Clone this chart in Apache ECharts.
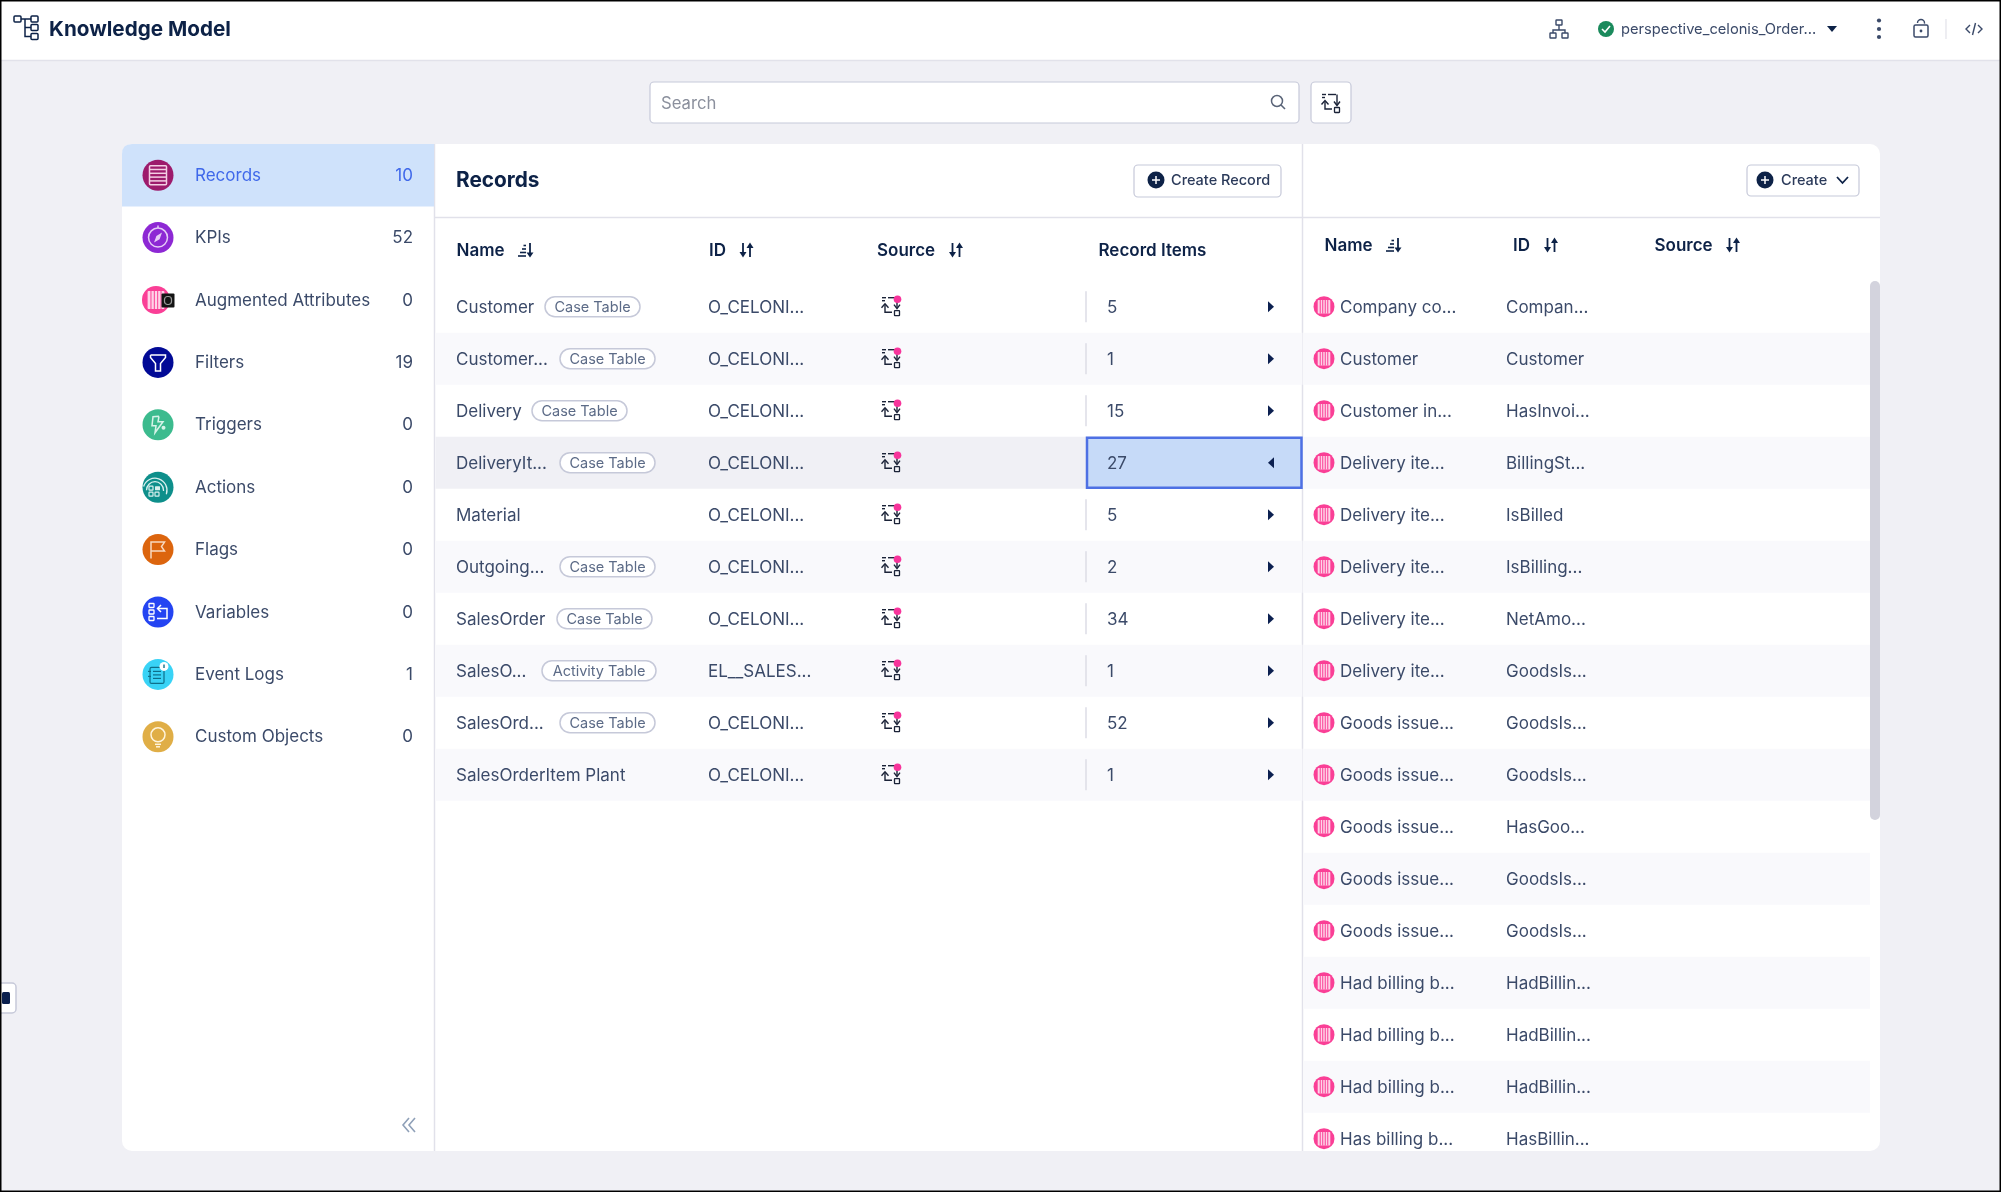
<!DOCTYPE html>
<html>
<head>
<meta charset="utf-8">
<title>Knowledge Model</title>
<script src="https://cdn.jsdelivr.net/npm/echarts@6/dist/echarts.min.js"></script>
<style>
html, body { margin: 0; padding: 0; background: #f0f0f5; }
#main { width: 2001px; height: 1192px; }
</style>
</head>
<body>
<div id="main"></div>
<script>
// sidebar
var assetLabels = ['Records', 'KPIs', 'Augmented Attributes', 'Filters', 'Triggers', 'Actions', 'Flags', 'Variables', 'Event Logs', 'Custom Objects'];
var assetCounts = [10, 52, 0, 19, 0, 0, 0, 0, 1, 0];

// records table
var recordNames = ['Customer', 'Customer...', 'Delivery', 'DeliveryIt...', 'Material', 'Outgoing...', 'SalesOrder', 'SalesO...', 'SalesOrd...', 'SalesOrderItem Plant'];
var recordTags = ['Case Table', 'Case Table', 'Case Table', 'Case Table', '', 'Case Table', 'Case Table', 'Activity Table', 'Case Table', ''];
var recordIds = ['O_CELONI...', 'O_CELONI...', 'O_CELONI...', 'O_CELONI...', 'O_CELONI...', 'O_CELONI...', 'O_CELONI...', 'EL__SALES...', 'O_CELONI...', 'O_CELONI...'];
var recordItems = [5, 1, 15, 27, 5, 2, 34, 1, 52, 1];
var selectedRecord = 3;

// record items table
var itemNames = ['Company co...', 'Customer', 'Customer in...', 'Delivery ite...', 'Delivery ite...', 'Delivery ite...', 'Delivery ite...', 'Delivery ite...', 'Goods issue...', 'Goods issue...', 'Goods issue...', 'Goods issue...', 'Goods issue...', 'Had billing b...', 'Had billing b...', 'Had billing b...', 'Has billing b...'];
var itemIds = ['Compan...', 'Customer', 'HasInvoi...', 'BillingSt...', 'IsBilled', 'IsBilling...', 'NetAmo...', 'GoodsIs...', 'GoodsIs...', 'GoodsIs...', 'HasGoo...', 'GoodsIs...', 'GoodsIs...', 'HadBillin...', 'HadBillin...', 'HadBillin...', 'HasBillin...'];

var FONT = 'Inter';
var NAVY = '#0d2247';
var BODY = '#3b4a69';
var LINE = '#e1e1ea';
var tagLeft = [545, 560, 532, 560, 0, 560, 557, 542, 560, 0];

var chart = echarts.init(document.getElementById('main'), null, { renderer: 'canvas' });

function txt(x, y, text, size, color, weight, align) {
    return {
        type: 'text',
        style: {
            x: x, y: y + 1, text: String(text), fill: color,
            fontFamily: FONT, fontSize: size, fontWeight: weight || 400,
            align: align || 'left', verticalAlign: 'middle'
        }
    };
}
function box(x, y, w, h, fill, r, stroke, lw) {
    return {
        type: 'rect',
        shape: { x: x, y: y, width: w, height: h, r: r || 0 },
        style: { fill: fill || 'transparent', stroke: stroke || null, lineWidth: lw || 0 }
    };
}
function dot(x, y, r, fill, stroke, lw) {
    return { type: 'circle', shape: { cx: x, cy: y, r: r }, style: { fill: fill || 'transparent', stroke: stroke || null, lineWidth: lw || 0 } };
}
function seg(x1, y1, x2, y2, color, lw) {
    return { type: 'line', shape: { x1: x1, y1: y1, x2: x2, y2: y2 }, style: { stroke: color, lineWidth: lw || 1.5 } };
}
function poly(points, fill) {
    return { type: 'polygon', shape: { points: points }, style: { fill: fill } };
}
function pline(points, color, lw) {
    return { type: 'polyline', shape: { points: points }, style: { stroke: color, lineWidth: lw || 1.5, fill: 'transparent' } };
}
function at(x, y, children) {
    return { type: 'group', x: x, y: y, children: children };
}

// sort glyphs
function sortName(x, y) {
    var c = [
        seg(-7, 6, 1, 6, NAVY, 1.6), seg(-5, 2.5, 1, 2.5, NAVY, 1.6),
        seg(-3, -1, 1, -1, NAVY, 1.6), seg(-1.5, -4.5, 1, -4.5, NAVY, 1.6),
        seg(5, -7, 5, 6, NAVY, 1.8), poly([[1.5, 2.5], [8.5, 2.5], [5, 7.5]], NAVY)
    ];
    return at(x, y, c);
}
function sortBoth(x, y) {
    var c = [
        seg(-3.5, -7, -3.5, 5, NAVY, 1.8), poly([[-7, 2], [0, 2], [-3.5, 7.5]], NAVY),
        seg(3.5, -5, 3.5, 7, NAVY, 1.8), poly([[0, -2], [7, -2], [3.5, -7.5]], NAVY)
    ];
    return at(x, y, c);
}

// source glyph, the pink dot is only on table rows
function sourceGlyph(x, y, color, withDot) {
    var c = [
        seg(-9, -8, -5, -8, color, 1.4), seg(-9, -5, -6, -5, color, 1.4), seg(-3, -8, 5, -8, color, 1.4),
        pline([[6, -8], [6, 2]], color, 1.4), pline([[3, -1], [6, 3], [9, -1]], color, 1.4),
        pline([[-6, -1], [-6, 6.5], [1, 6.5]], color, 1.4), pline([[-9.5, 2], [-6, -2], [-2.5, 2]], color, 1.4),
        box(3.5, 5, 5, 5, null, 0.5, color, 1.3)
    ];
    if (withDot) c.push(dot(6.5, -6.5, 3.8, '#f7349b'));
    return at(x, y, c);
}

// pink attribute disc: light panel with thin pink bars
function stripes(r, fill) {
    var c = [dot(0, 0, r, fill)];
    var w = r * 1.2;
    var h = r * 1.3;
    c.push(box(-w / 2, -h / 2, w, h, '#ffd3e8', 1));
    for (var i = 0; i < 4; i++) {
        var sx = -w / 2 + (i + 1) * w / 5;
        c.push(seg(sx, -h / 2, sx, h / 2, fill, 1));
    }
    return c;
}

// one round icon per asset type, relative to the centre
function assetIcon(i) {
    var w = '#ffffff';
    var s;
    if (i === 0) {
        s = [dot(0, 0, 15.5, '#9d1b6c'), box(-8.5, -9.5, 17, 19, null, 1, '#f4cfe4', 1.5)];
        for (var k = 1; k < 5; k++) s.push(seg(-8.5, -9.5 + k * 3.8, 8.5, -9.5 + k * 3.8, '#f4cfe4', 1.5));
        return s;
    }
    if (i === 1) {
        return [dot(0, 0, 15.5, '#8d28d4'), dot(0, 0, 9.5, null, '#e6ccf7', 1.5), seg(0, -12, 0, -9.5, '#e6ccf7', 1.5),
            poly([[4, -5], [1.6, 1.6], [-4, 5], [-1.6, -1.6]], '#e6ccf7')];
    }
    if (i === 2) {
        s = at(-2, 0, stripes(14, '#fa3f96'));
        return [s, box(3.5, -6.5, 13, 14, '#141414', 1), box(6.5, -3.5, 7, 8, null, 3, '#9a9a9a', 1.2)];
    }
    if (i === 3) {
        return [dot(0, 0, 15.5, '#020a96'), pline([[-7.5, -7.5], [7.5, -7.5], [7.5, -5], [2.5, 1], [2.5, 8.5], [-2.5, 8.5], [-2.5, 1], [-7.5, -5], [-7.5, -7.5]], w, 1.5)];
    }
    if (i === 4) {
        return [dot(0, 0, 15.5, '#3cbb8e'), pline([[1, -8.5], [-5, -8], [-6, 1], [-2, 1], [-3, 8], [5, -3], [0, -3], [1, -8.5]], '#d6f3e8', 1.5), dot(5.5, 3, 2, '#d6f3e8')];
    }
    if (i === 5) {
        s = [dot(0, 0, 15.5, '#0e8f8b')];
        var sq = [[-9, -1], [-3, -1], [-9, 5], [-3, 5]];
        s.push(box(sq[0][0], sq[0][1], 4, 4, null, 0.5, '#d9f0ee', 1.2), box(sq[1][0], sq[1][1], 5, 4, '#d9f0ee', 0.5), box(sq[2][0], sq[2][1], 4, 4, null, 0.5, '#d9f0ee', 1.2), box(sq[3][0], sq[3][1], 4, 4, null, 0.5, '#d9f0ee', 1.2));
        s.push({ type: 'arc', shape: { cx: -3, cy: 3, r: 8.5, startAngle: -Math.PI, endAngle: 0.1 }, style: { stroke: '#d9f0ee', lineWidth: 1.3, fill: 'transparent' } });
        s.push({ type: 'arc', shape: { cx: -3, cy: 3, r: 12, startAngle: -Math.PI * 0.9, endAngle: 0.35 }, style: { stroke: '#d9f0ee', lineWidth: 1.3, fill: 'transparent' } });
        return s;
    }
    if (i === 6) {
        return [dot(0, 0, 15.5, '#dc650e'), pline([[-7, 9], [-7, -7.5], [6.5, -7.5], [3.5, -3], [6.5, 1.5], [-7, 1.5]], '#f8d9c0', 1.5)];
    }
    if (i === 7) {
        s = [dot(0, 0, 15.5, '#2444f2')];
        s.push(box(-9, -8.5, 5, 4, null, 0.5, w, 1.3), box(-9, -2, 5, 4, null, 0.5, w, 1.3), box(-9, 4.5, 5, 4, null, 0.5, w, 1.3));
        s.push(pline([[-1, 6.5], [9, 6.5], [9, -3.5], [0, -3.5]], w, 1.5), pline([[3, -7], [-0.5, -3.5], [3, 0]], w, 1.5));
        return s;
    }
    if (i === 8) {
        s = [dot(0, 0, 15.5, '#39d3f6'), box(-8, -7, 14, 16, null, 1.5, '#0e6f8a', 1.2)];
        s.push(seg(-5, -3, 3, -3, '#0e6f8a', 1.2), seg(-5, 0.5, 3, 0.5, '#0e6f8a', 1.2), seg(-5, 4, 3, 4, '#0e6f8a', 1.2));
        s.push(seg(-10, -3, -7, -3, '#0e6f8a', 1.2), seg(-10, 2, -7, 2, '#0e6f8a', 1.2));
        s.push(dot(6, -8, 4.5, '#ffffff'), seg(6, -10, 6, -6.5, '#0e6f8a', 1.4));
        return s;
    }
    return [dot(0, 0, 15.5, '#e0ae46'), dot(0, -2, 7, null, '#fff4dc', 1.5), seg(-3, 7.5, 3, 7.5, '#fff4dc', 1.5), seg(-2, 10, 2, 10, '#fff4dc', 1.5)];
}

function renderAsset(params, api) {
    var i = params.dataIndex;
    var p = api.coord([0, i]);
    var c = [];
    if (i === 0) {
        c.push({ type: 'path', shape: { pathData: 'M122 154 Q122 144 132 144 L434 144 L434 206.5 L122 206.5 Z' }, style: { fill: '#cfe2fb' } });
    }
    c.push(at(158, p[1], assetIcon(i)));
    var color = i === 0 ? '#3f68ea' : BODY;
    c.push(txt(195, p[1] - 0.5, assetLabels[i], 17, color));
    c.push(txt(413, p[1] - 0.5, assetCounts[i], 17, color, 400, 'right'));
    return { type: 'group', children: c };
}

function renderRecord(params, api) {
    var i = params.dataIndex;
    var p = api.coord([0, i]);
    var h = api.size([0, 1])[1];
    var c = [];
    var sel = i === selectedRecord;
    if (i % 2 === 1) c.push(box(435.5, p[1] - h / 2, 867, h, sel ? '#f0f0f5' : '#f9f9fc'));
    c.push(txt(456, p[1], recordNames[i], 17, BODY));
    if (recordTags[i]) {
        var tw = recordTags[i] === 'Activity Table' ? 114 : 95;
        c.push(box(tagLeft[i], p[1] - 10, tw, 20, '#ffffff', 10, '#c6c9d9', 1.5));
        c.push(txt(tagLeft[i] + tw / 2, p[1] - 0.5, recordTags[i], 14.5, '#5c6b87', 400, 'center'));
    }
    c.push(txt(708, p[1], recordIds[i], 17, BODY));
    c.push(sourceGlyph(891, p[1] - 1, '#1b2338', true));
    if (sel) {
        c.push(box(1087, p[1] - h / 2 + 1, 214.5, h - 2, '#c6daf8', 0, '#4e70e4', 2.5));
    } else {
        c.push(seg(1086, p[1] - 15.5, 1086, p[1] + 15.5, '#dcdce6', 1.5));
    }
    c.push(txt(1107, p[1], recordItems[i], 17, BODY));
    var t = sel ? [[1274, p[1] - 5.5], [1268, p[1]], [1274, p[1] + 5.5]] : [[1268, p[1] - 5.5], [1274, p[1]], [1268, p[1] + 5.5]];
    c.push(poly(t, '#0c2050'));
    return { type: 'group', children: c };
}

function renderItem(params, api) {
    var i = params.dataIndex;
    var p = api.coord([0, i]);
    var h = api.size([0, 1])[1];
    var c = [];
    if (i % 2 === 1) c.push(box(1303.5, p[1] - h / 2, 566.5, h, '#f9f9fc'));
    c.push(at(1324, p[1], stripes(10.5, '#fa3f96')));
    c.push(txt(1340, p[1], itemNames[i], 17, BODY));
    c.push(txt(1506, p[1], itemIds[i], 17, BODY));
    return { type: 'group', children: c };
}

function rowData(names) {
    return names.map(function (n, i) { return [0, i]; });
}

var chrome = [
    // top bar
    box(0, 0, 2001, 60, '#ffffff'),
    seg(0, 60.5, 2001, 60.5, '#e2e2ea', 1.5),
    at(14, 16, [
        box(0, 0, 7, 6, null, 1, NAVY, 1.5), box(17, 0, 7, 6, null, 1, NAVY, 1.5),
        box(17, 8.5, 7, 6, null, 1, NAVY, 1.5), box(17, 17.5, 7, 6, null, 1, NAVY, 1.5),
        seg(7, 3, 17, 3, NAVY, 1.5), pline([[11, 3], [11, 20.5], [17, 20.5]], NAVY, 1.5), seg(11, 11.5, 17, 11.5, NAVY, 1.5)
    ]),
    txt(49, 28.5, 'Knowledge Model', 20.7, NAVY, 700),
    at(1559, 29, [
        box(-3, -9, 6, 5, null, 0.5, BODY, 1.4), box(-9, 4, 6, 5, null, 0.5, BODY, 1.4), box(3, 4, 6, 5, null, 0.5, BODY, 1.4),
        seg(0, -4, 0, 1, BODY, 1.4), pline([[-6, 4], [-6, 1], [6, 1], [6, 4]], BODY, 1.4)
    ]),
    dot(1606, 29, 8, '#1a8a5c'),
    pline([[1602, 29], [1605, 32], [1610, 26]], '#ffffff', 1.6),
    txt(1621, 29, 'perspective_celonis_Order...', 14.7, BODY),
    poly([[1827, 26], [1837, 26], [1832, 32]], NAVY),
    dot(1879, 20.5, 2.1, BODY), dot(1879, 29, 2.1, BODY), dot(1879, 37, 2.1, BODY),
    at(1921, 29, [
        box(-7, -4, 14, 12, null, 1.5, BODY, 1.5), dot(0, 2, 1.4, BODY),
        { type: 'arc', shape: { cx: 0, cy: -6, r: 3.5, startAngle: Math.PI, endAngle: 0.15 }, style: { stroke: BODY, lineWidth: 1.4, fill: 'transparent' } }
    ]),
    seg(1946, 19, 1946, 39, '#e2e2ea', 1.2),
    at(1974, 29, [
        pline([[-4, -4], [-8, 0], [-4, 4]], BODY, 1.4), pline([[4, -4], [8, 0], [4, 4]], BODY, 1.4), seg(1.5, -6, -1.5, 6, BODY, 1.4)
    ]),

    // search
    box(650, 82, 649, 41, '#ffffff', 4, '#c6c9d9', 1.2),
    txt(661, 102.5, 'Search', 16.7, '#8b909d'),
    dot(1277, 101, 5.5, null, '#5a6478', 1.5),
    seg(1281, 105, 1285, 109, '#5a6478', 1.6),
    box(1311, 82, 40, 41, '#ffffff', 4, '#c6c9d9', 1.2),
    sourceGlyph(1331, 102.5, '#1b2338', false),

    // card and panels
    box(122, 144, 1758, 1007, '#ffffff', 10),
    seg(434.5, 144, 434.5, 1151, LINE, 1.5),
    seg(1302.5, 144, 1302.5, 1151, LINE, 1.5),
    seg(435, 217.5, 1880, 217.5, LINE, 1.5),

    txt(456, 179.5, 'Records', 20.8, NAVY, 700),
    box(1134, 165, 147, 32, '#ffffff', 4, '#c6c9d9', 1.2),
    dot(1156, 180, 8.5, NAVY), seg(1152, 180, 1160, 180, '#ffffff', 1.5), seg(1156, 176, 1156, 184, '#ffffff', 1.5),
    txt(1171, 180, 'Create Record', 14.5, '#2b3a5a', 500),
    box(1747, 165, 112, 31, '#ffffff', 4, '#c6c9d9', 1.2),
    dot(1765, 180, 8.5, NAVY), seg(1761, 180, 1769, 180, '#ffffff', 1.5), seg(1765, 176, 1765, 184, '#ffffff', 1.5),
    txt(1781, 180, 'Create', 14.5, '#2b3a5a', 500),
    pline([[1837, 177], [1842.5, 183], [1848, 177]], NAVY, 1.8),

    // table headers
    txt(456.5, 250, 'Name', 17, NAVY, 600), sortName(525, 250),
    txt(709, 250, 'ID', 17, NAVY, 600), sortBoth(746.5, 250),
    txt(877, 250, 'Source', 17, NAVY, 600), sortBoth(956, 250),
    txt(1098.5, 250, 'Record Items', 17, NAVY, 600),
    txt(1324.5, 245, 'Name', 17, NAVY, 600), sortName(1393, 245),
    txt(1513, 245, 'ID', 17, NAVY, 600), sortBoth(1551, 245),
    txt(1654.5, 245, 'Source', 17, NAVY, 600), sortBoth(1733, 245),

    // scrollbar, collapse, side tab
    box(1870, 281, 10, 539, '#d3d3dd', 5),
    pline([[409, 1118], [403, 1125], [409, 1132]], '#8fa0b8', 1.6),
    pline([[415, 1118], [409, 1125], [415, 1132]], '#8fa0b8', 1.6),
    box(-6, 983, 22, 30, '#ffffff', 4, '#c6c9d9', 1.5),
    box(2, 992, 8, 12, '#0a1f4d', 1.5),

    // screenshot frame
    box(0.75, 0.75, 1999.5, 1190.5, null, 0, '#000000', 1.5)
];

chart.setOption({
    backgroundColor: '#f0f0f5',
    animation: false,
    tooltip: { show: false },
    graphic: { elements: chrome.map(function (e) { e.silent = true; return e; }) },
    grid: [
        { left: 122, top: 144, width: 312, height: 624 },
        { left: 435, top: 280.7, width: 867, height: 520 },
        { left: 1303, top: 280.7, width: 576, height: 884 }
    ],
    xAxis: [
        { gridIndex: 0, type: 'value', show: false, min: 0, max: 1 },
        { gridIndex: 1, type: 'value', show: false, min: 0, max: 1 },
        { gridIndex: 2, type: 'value', show: false, min: 0, max: 1 }
    ],
    yAxis: [
        { gridIndex: 0, type: 'category', show: false, inverse: true, data: assetLabels },
        { gridIndex: 1, type: 'category', show: false, inverse: true, data: recordNames },
        { gridIndex: 2, type: 'category', show: false, inverse: true, data: itemNames }
    ],
    series: [
        { type: 'custom', xAxisIndex: 0, yAxisIndex: 0, clip: false, silent: true, renderItem: renderAsset, data: rowData(assetLabels) },
        { type: 'custom', xAxisIndex: 1, yAxisIndex: 1, clip: false, silent: true, renderItem: renderRecord, data: rowData(recordNames) },
        { type: 'custom', xAxisIndex: 2, yAxisIndex: 2, clip: false, silent: true, renderItem: renderItem, data: rowData(itemNames) }
    ]
});
</script>
</body>
</html>
